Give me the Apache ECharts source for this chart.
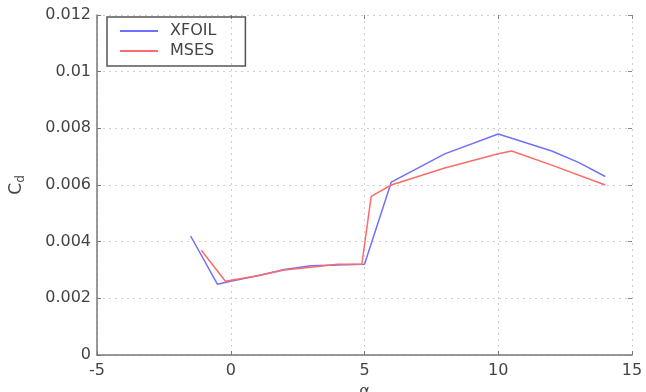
<!DOCTYPE html>
<html>
<head>
<meta charset="utf-8">
<script src="https://cdn.jsdelivr.net/npm/echarts@6/dist/echarts.min.js"></script>
<style>
  html, body { margin: 0; padding: 0; background: #fff; }
  #chart { width: 646px; height: 392px; }
</style>
</head>
<body>
<div id="chart"></div>
<script>
// drag coefficient vs angle of attack
var xfoilAlpha = [-1.5, -0.5, 0, 1, 2, 3, 4, 5, 6, 8, 10, 12, 13, 14];
var xfoilCd = [0.0042, 0.0025, 0.0026, 0.0028, 0.00302, 0.00315, 0.00318, 0.0032, 0.0061, 0.0071, 0.0078, 0.0072, 0.0068, 0.0063];
var msesAlpha = [-1.1, -0.2, 1, 2, 3, 4, 4.9, 5.25, 6, 8, 10, 10.5, 12, 14];
var msesCd = [0.0037, 0.0026, 0.0028, 0.003, 0.0031, 0.0032, 0.0032, 0.0056, 0.006, 0.0066, 0.0071, 0.0072, 0.0067, 0.006];
var seriesNames = ['XFOIL', 'MSES'];
var xTicks = { min: -5, max: 15, interval: 5 };
var yTicks = { min: 0, max: 0.012, interval: 0.002 };

var font = 'DejaVu Sans';
var chart = echarts.init(document.getElementById('chart'));

function pairs(xs, ys) {
  return xs.map(function (x, i) { return [x, ys[i]]; });
}

// mirrored ticks on the top / right edges (box style)
var tickOnly = {
  axisLine: { show: false, onZero: false },
  axisLabel: { show: false },
  splitLine: { show: false },
  axisTick: { show: true, inside: true, length: 4, lineStyle: { color: '#888' } }
};

var option = {
  animation: false,
  grid: { left: 97, right: 14, top: 15, bottom: 37, outerBoundsMode: 'none' },
  legend: {
    left: 107,
    top: 17,
    orient: 'vertical',
    data: seriesNames,
    borderColor: '#555',
    borderWidth: 1.5,
    padding: [6, 29, 7, 12],
    itemGap: 4,
    itemWidth: 38,
    itemHeight: 14,
    itemStyle: { opacity: 0 },
    textStyle: { fontFamily: font, fontSize: 16, color: '#444', padding: [0, 0, 0, 7] }
  },
  xAxis: [{
    type: 'value',
    min: xTicks.min, max: xTicks.max, interval: xTicks.interval,
    name: 'α',
    nameLocation: 'middle',
    nameGap: 28,
    nameTextStyle: { fontFamily: font, fontSize: 16, color: '#444' },
    axisLine: { onZero: false, lineStyle: { color: '#777', width: 1.5 } },
    axisTick: { inside: true, length: 4, lineStyle: { color: '#777' } },
    axisLabel: { fontFamily: font, fontSize: 16, color: '#444', margin: 8 },
    splitLine: { show: true, lineStyle: { color: '#cfcfcf', type: [2, 4] } }
  }, Object.assign({
    type: 'value', position: 'top',
    min: xTicks.min, max: xTicks.max, interval: xTicks.interval
  }, tickOnly)],
  yAxis: [{
    type: 'value',
    min: yTicks.min, max: yTicks.max, interval: yTicks.interval,
    name: '{c|C}{d|d}',
    nameLocation: 'middle',
    nameRotate: 90,
    nameGap: 72,
    nameTextStyle: {
      rich: {
        c: { fontFamily: font, fontSize: 17, color: '#444' },
        d: { fontFamily: font, fontSize: 12, color: '#444', padding: [0, 0, -8, 0] }
      }
    },
    axisLine: { show: true, onZero: false, lineStyle: { color: '#777', width: 1.5 } },
    axisTick: { show: true, inside: true, length: 4, lineStyle: { color: '#777' } },
    axisLabel: {
      fontFamily: font, fontSize: 16, color: '#444', margin: 6,
      formatter: function (v) { return String(+v.toFixed(3)); }
    },
    splitLine: { show: true, lineStyle: { color: '#cfcfcf', type: [2, 4] } }
  }, Object.assign({
    type: 'value', position: 'right',
    min: yTicks.min, max: yTicks.max, interval: yTicks.interval
  }, tickOnly)],
  series: [{
    name: seriesNames[0],
    type: 'line',
    symbol: 'none',
    data: pairs(xfoilAlpha, xfoilCd),
    lineStyle: { color: '#7070ff', width: 1.5 },
    itemStyle: { color: '#7070ff' }
  }, {
    name: seriesNames[1],
    type: 'line',
    symbol: 'none',
    data: pairs(msesAlpha, msesCd),
    lineStyle: { color: '#ff6a6a', width: 1.5 },
    itemStyle: { color: '#ff6a6a' }
  }]
};

chart.setOption(option);
</script>
</body>
</html>
